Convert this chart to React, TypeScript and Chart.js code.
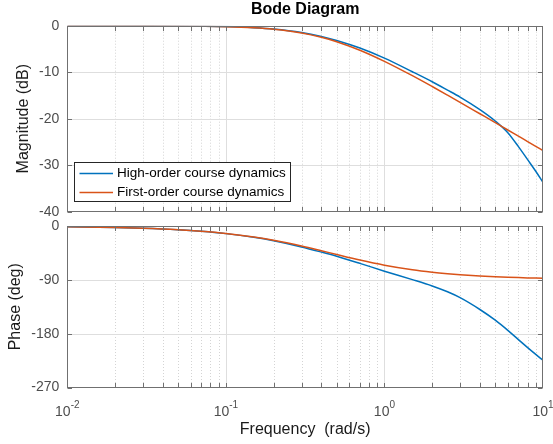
import React, { useEffect, useRef } from 'react';
import { Chart, registerables } from 'chart.js';

Chart.register(...registerables);

// ---- data ----
const frequency = [0.01, 0.02, 0.03, 0.05, 0.07, 0.1, 0.15, 0.2, 0.3, 0.4, 0.5, 0.7, 1, 1.5, 2, 2.5, 3, 4, 5, 6, 7, 8, 9, 10];
const highOrderMagnitude = [0, -0.01, -0.02, -0.05, -0.1, -0.19, -0.42, -0.71, -1.45, -2.3, -3.17, -4.8, -6.97, -9.9, -12.05, -13.85, -15.35, -18.05, -20.5, -23.0, -26.0, -28.8, -31.3, -33.7];
const firstOrderMagnitude = [0, -0.01, -0.02, -0.05, -0.1, -0.2, -0.45, -0.77, -1.57, -2.49, -3.44, -5.27, -7.66, -10.75, -13.08, -14.94, -16.48, -18.94, -20.85, -22.43, -23.76, -24.92, -25.94, -26.85];
const highOrderPhase = [-1.3, -2.6, -3.85, -6.4, -8.95, -12.75, -18.85, -24.7, -35.0, -43.6, -50.7, -62.5, -75.5, -89.6, -100.2, -110.0, -119.8, -139.6, -157.5, -174.5, -190.0, -203.3, -214.6, -224.5];
const firstOrderPhase = [-1.26, -2.52, -3.77, -6.27, -8.75, -12.39, -18.25, -23.73, -33.4, -41.32, -47.69, -56.98, -65.54, -73.12, -77.18, -79.69, -81.38, -83.51, -84.8, -85.66, -86.28, -86.74, -87.11, -87.39];

const seriesLabels = ['High-order course dynamics', 'First-order course dynamics'];
const seriesColors = ['#0072BD', '#D95319'];

const magnitudeTicks = [0, -10, -20, -30, -40];
const phaseTicks = [0, -90, -180, -270];
const frequencyTicks = [0.01, 0.1, 1, 10];
const frequencyTickBase = ['10', '10', '10', '10'];
const frequencyTickExponents = ['-2', '-1', '0', '1'];

const titleText = 'Bode Diagram';
const magnitudeLabel = 'Magnitude (dB)';
const phaseLabel = 'Phase (deg)';
const frequencyLabel = 'Frequency  (rad/s)';

// ---- layout ----
const W = 553;
const H = 444;
const PLOT_LEFT = 67.3;
const PLOT_RIGHT = 543;
const MAG_BOTTOM = 211.7;
const PH_TOP = 226;
const PH_BOTTOM = 387.5;
const FONT = "'Liberation Sans', Arial, Helvetica, sans-serif";
const TICK_COLOR = '#4d4d4d';
const LABEL_COLOR = '#1a1a1a';

const framePlugin = {
  id: 'bodeFrame',
  beforeDatasetsDraw(chart: any) {
    const { ctx, chartArea: a } = chart;
    const xs = chart.scales.x;
    const ys = chart.scales.y;
    ctx.save();
    ctx.beginPath();
    ctx.rect(a.left, a.top, a.right - a.left, a.bottom - a.top);
    ctx.clip();
    ctx.lineWidth = 1;
    ctx.strokeStyle = '#d4d4d4';
    ctx.setLineDash([1, 2]);
    ctx.beginPath();
    for (let e = -2; e < 1; e++) {
      for (let m = 2; m <= 9; m++) {
        const px = Math.round(xs.getPixelForValue(m * Math.pow(10, e))) + 0.5;
        ctx.moveTo(px, a.top);
        ctx.lineTo(px, a.bottom);
      }
    }
    ctx.stroke();
    ctx.setLineDash([]);
    ctx.strokeStyle = '#dedede';
    ctx.beginPath();
    for (const v of frequencyTicks) {
      const px = Math.round(xs.getPixelForValue(v)) + 0.5;
      ctx.moveTo(px, a.top);
      ctx.lineTo(px, a.bottom);
    }
    for (const t of ys.ticks) {
      const py = Math.round(ys.getPixelForValue(t.value)) + 0.5;
      ctx.moveTo(a.left, py);
      ctx.lineTo(a.right, py);
    }
    ctx.stroke();
    ctx.restore();
  },
  afterDatasetsDraw(chart: any) {
    const { ctx, chartArea: a } = chart;
    const xs = chart.scales.x;
    const ys = chart.scales.y;
    const L = Math.round(a.left) + 0.5;
    const R = Math.round(a.right) - 0.5;
    const T = Math.round(a.top) + 0.5;
    const B = Math.round(a.bottom) - 0.5;
    const TL = 4.5;
    ctx.save();
    ctx.strokeStyle = '#707070';
    ctx.lineWidth = 1;
    ctx.beginPath();
    const xt: number[] = [];
    for (let e = -2; e < 1; e++) {
      for (let m = 1; m <= 9; m++) xt.push(m * Math.pow(10, e));
    }
    for (const v of xt) {
      const px = Math.round(xs.getPixelForValue(v)) + 0.5;
      ctx.moveTo(px, T);
      ctx.lineTo(px, T + TL);
      ctx.moveTo(px, B);
      ctx.lineTo(px, B - TL);
    }
    for (const t of ys.ticks) {
      const py = Math.round(ys.getPixelForValue(t.value)) + 0.5;
      ctx.moveTo(L, py);
      ctx.lineTo(L + TL, py);
      ctx.moveTo(R, py);
      ctx.lineTo(R - TL, py);
    }
    ctx.stroke();
    ctx.strokeRect(L, T, R - L, B - T);
    ctx.restore();
  },
};

// draws the power-of-ten frequency labels with a raised exponent
const powerLabelPlugin = {
  id: 'powerLabels',
  afterDraw(chart: any) {
    const { ctx, chartArea: a } = chart;
    const xs = chart.scales.x;
    ctx.save();
    ctx.fillStyle = TICK_COLOR;
    ctx.textBaseline = 'alphabetic';
    ctx.textAlign = 'left';
    const baseFont = `14px ${FONT}`;
    const expFont = `10px ${FONT}`;
    frequencyTicks.forEach((v, i) => {
      const base = frequencyTickBase[i];
      const exp = frequencyTickExponents[i];
      ctx.font = baseFont;
      const wb = ctx.measureText(base).width;
      ctx.font = expFont;
      const we = ctx.measureText(exp).width;
      const cx = xs.getPixelForValue(v);
      const x0 = cx - (wb + we) / 2;
      const baseline = a.bottom + 28.2;
      ctx.font = baseFont;
      ctx.fillText(base, x0, baseline);
      ctx.font = expFont;
      ctx.fillText(exp, x0 + wb, baseline - 7.5);
    });
    ctx.restore();
  },
};

const legendPlugin = {
  id: 'boxLegend',
  afterDraw(chart: any) {
    const { ctx, chartArea: a } = chart;
    const x0 = Math.round(a.left + 6.7) + 0.5;
    const y0 = Math.round(a.bottom - 50) + 0.5;
    const w = 216;
    const h = 39;
    ctx.save();
    ctx.fillStyle = '#ffffff';
    ctx.fillRect(x0, y0, w, h);
    ctx.strokeStyle = '#262626';
    ctx.lineWidth = 1;
    ctx.strokeRect(x0, y0, w, h);
    seriesLabels.forEach((label, i) => {
      const y = y0 + 11 + i * 19;
      ctx.strokeStyle = seriesColors[i];
      ctx.lineWidth = 1.5;
      ctx.beginPath();
      ctx.moveTo(x0 + 5, y);
      ctx.lineTo(x0 + 38.5, y);
      ctx.stroke();
      ctx.fillStyle = '#000';
      ctx.font = `13.5px ${FONT}`;
      ctx.textBaseline = 'middle';
      ctx.textAlign = 'left';
      ctx.fillText(label, x0 + 42.5, y);
    });
    ctx.restore();
  },
};

function makeConfig(kind: 'mag' | 'phase'): any {
  const isMag = kind === 'mag';
  const hi = isMag ? highOrderMagnitude : highOrderPhase;
  const fo = isMag ? firstOrderMagnitude : firstOrderPhase;
  const yTicks = isMag ? magnitudeTicks : phaseTicks;
  const ds = (label: string, color: string, vals: number[], order: number) => ({
    label,
    data: frequency.map((x, i) => ({ x, y: vals[i] })),
    borderColor: color,
    backgroundColor: color,
    borderWidth: 1.5,
    pointRadius: 0,
    fill: false,
    cubicInterpolationMode: 'monotone',
    order,
  });
  return {
    type: 'line',
    data: {
      datasets: [
        ds(seriesLabels[0], seriesColors[0], hi, 2),
        ds(seriesLabels[1], seriesColors[1], fo, 1),
      ],
    },
    options: {
      responsive: false,
      animation: false,
      events: [],
      layout: {
        padding: isMag
          ? { top: 0, left: 0, right: W - PLOT_RIGHT, bottom: H - MAG_BOTTOM }
          : { top: PH_TOP, left: 0, right: W - PLOT_RIGHT, bottom: 0 },
      },
      plugins: {
        legend: { display: false },
        tooltip: { enabled: false },
        title: {
          display: isMag,
          text: titleText,
          fullSize: false,
          color: '#000',
          font: { family: FONT, size: 16, weight: 'bold', lineHeight: 1.2 },
          padding: { top: 0, bottom: 6.5 },
        },
      },
      scales: {
        x: {
          type: 'logarithmic',
          min: 0.01,
          max: 10,
          display: !isMag,
          grid: { display: false, drawTicks: false },
          border: { display: false },
          afterBuildTicks: (s: any) => {
            s.ticks = frequencyTicks.map((v) => ({ value: v }));
          },
          ticks: {
            autoSkip: false,
            maxRotation: 0,
            padding: 15,
            color: TICK_COLOR,
            font: { family: FONT, size: 14 },
            callback: () => '',
          },
          title: {
            display: true,
            text: frequencyLabel,
            color: LABEL_COLOR,
            font: { family: FONT, size: 16, lineHeight: 1.2 },
            padding: { top: 0, bottom: 4.4 },
          },
          afterFit: (s: any) => {
            if (!isMag) s.height = H - PH_BOTTOM;
            s.paddingLeft = 0;
            s.paddingRight = 0;
          },
        },
        y: {
          type: 'linear',
          min: isMag ? -40 : -270,
          max: 0,
          grid: { display: false, drawTicks: false },
          border: { display: false },
          afterBuildTicks: (s: any) => {
            s.ticks = yTicks.map((v) => ({ value: v }));
          },
          ticks: {
            padding: 8,
            color: TICK_COLOR,
            font: { family: FONT, size: 14 },
            callback: (v: any) => String(v),
          },
          title: {
            display: true,
            text: isMag ? magnitudeLabel : phaseLabel,
            color: LABEL_COLOR,
            font: { family: FONT, size: 16, lineHeight: 1.2 },
            padding: { top: isMag ? 14.4 : 6.4, bottom: 0 },
          },
          afterFit: (s: any) => {
            s.width = PLOT_LEFT;
            s.paddingTop = 0;
            s.paddingBottom = 0;
          },
        },
      },
    },
    plugins: isMag ? [framePlugin, legendPlugin] : [framePlugin, powerLabelPlugin],
  };
}

export default function App() {
  const magRef = useRef<HTMLCanvasElement>(null);
  const phRef = useRef<HTMLCanvasElement>(null);

  useEffect(() => {
    const c1 = new Chart(magRef.current as HTMLCanvasElement, makeConfig('mag'));
    const c2 = new Chart(phRef.current as HTMLCanvasElement, makeConfig('phase'));
    return () => {
      c1.destroy();
      c2.destroy();
    };
  }, []);

  const canvasStyle: React.CSSProperties = {
    position: 'absolute',
    left: 0,
    top: 0,
    width: W,
    height: H,
  };

  return (
    <div style={{ position: 'fixed', left: 0, top: 0, width: W, height: H, background: '#fff', overflow: 'hidden' }}>
      <canvas ref={magRef} width={W} height={H} style={canvasStyle} />
      <canvas ref={phRef} width={W} height={H} style={canvasStyle} />
    </div>
  );
}
